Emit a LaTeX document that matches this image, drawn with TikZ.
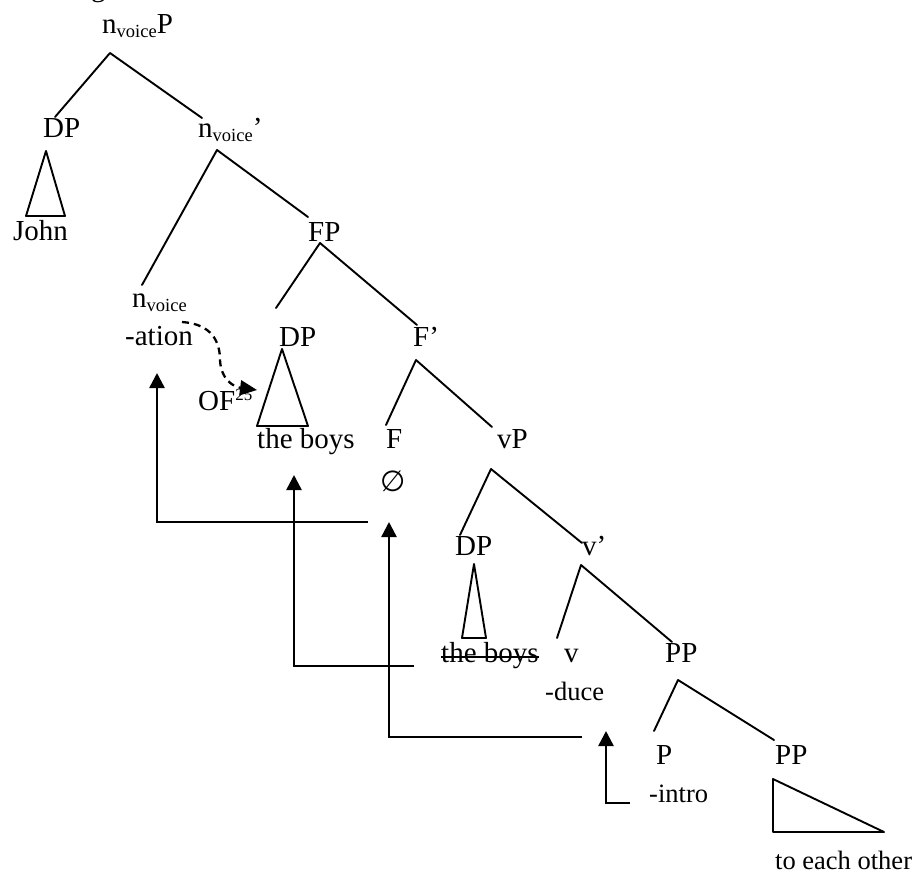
\documentclass[tikz,border=0pt]{standalone}
\usepackage{fontspec}
\setmainfont{Liberation Serif}
\newfontfamily\djvfont{DejaVu Sans}
\usetikzlibrary{arrows.meta,calc}
\newcommand\mainsz{\fontsize{29}{34}\selectfont}
\newcommand\smallsz{\fontsize{26.5}{31}\selectfont}
\newcommand\mysub[1]{\raisebox{-4pt}{\fontsize{18.5}{20}\selectfont #1}}
\newcommand\mysup[1]{\raisebox{10pt}{\fontsize{17}{19}\selectfont #1}}
\begin{document}
\begin{tikzpicture}[x=1pt,y=-1pt,
  lbl/.style={anchor=base west,inner sep=0pt,font=\mainsz},
  sml/.style={anchor=base west,inner sep=0pt,font=\smallsz},
  edge/.style={line width=1.9pt,line cap=round,line join=round},
  mv/.style={line width=2.5pt,-{Triangle[width=15pt,length=15pt]}},
  dmv/.style={line width=2.3pt,dash pattern=on 7pt off 5pt,-{Triangle[width=15pt,length=17pt]}}]
\useasboundingbox (0,0) rectangle (913,875);
% fragment of text cut at the top
\node[lbl] (gfrag) at (91,-3) {g};
% labels
\node[lbl] (nvP) at (102,34) {n\mysub{voice}P};
\node[lbl] (dp1) at (43,137) {DP};
\node[lbl] (nvbar) at (198,137) {n\mysub{voice}’};
\node[lbl] (john) at (13,240) {John};
\node[lbl] (fp) at (308,241) {FP};
\node[lbl] (nv) at (132,307) {n\mysub{voice}};
\node[lbl] (ation) at (125,345) {-ation};
\node[lbl] (dp2) at (279,346) {DP};
\node[lbl] (fbar) at (413,346) {F’};
\node[lbl] (of) at (198,410) {OF\mysup{25}};
\node[lbl] (tb1) at (257,448) {the boys};
\node[lbl] (f) at (386,448) {F};
\node[anchor=base west,inner sep=0pt,font={\djvfont\fontsize{29}{34}\selectfont}] (empty) at (380,491) {∅};
\node[lbl] (vp) at (497,448) {vP};
\node[lbl] (dp3) at (455,555) {DP};
\node[lbl] (vbar) at (582,555) {v’};
\node[lbl] (tb2) at (441,662) {the boys};
\node[lbl] (v) at (564,662) {v};
\node[lbl] (pp1) at (665,662) {PP};
\node[sml] (duce) at (545,700) {-duce};
\node[lbl] (p) at (656,764) {P};
\node[lbl] (pp2) at (775,764) {PP};
\node[sml] (intro) at (649,802) {-intro};
\node[sml] (eo) at (775,869) {to each other};
% strike-through
\draw[line width=1.8pt] ($(tb2.base west)+(0,-5)$) -- ($(tb2.base east)+(0,-5)$);
% tree edge end points
\coordinate (a1) at (110,53);  \coordinate (a1l) at (55,117);  \coordinate (a1r) at (202,118);
\coordinate (a2) at (217,150); \coordinate (a2l) at (142,285); \coordinate (a2r) at (308,217);
\coordinate (a3) at (320,243); \coordinate (a3l) at (276,308); \coordinate (a3r) at (417,325);
\coordinate (a4) at (416,360); \coordinate (a4l) at (386,425); \coordinate (a4r) at (492,427);
\coordinate (a5) at (491,469); \coordinate (a5l) at (460,535); \coordinate (a5r) at (582,543);
\coordinate (a6) at (581,565); \coordinate (a6l) at (557,638); \coordinate (a6r) at (672,642);
\coordinate (a7) at (678,680); \coordinate (a7l) at (654,731); \coordinate (a7r) at (774,740);
\draw[edge] (a1l) -- (a1) -- (a1r);
\draw[edge] (a2l) -- (a2) -- (a2r);
\draw[edge] (a3l) -- (a3) -- (a3r);
\draw[edge] (a4l) -- (a4) -- (a4r);
\draw[edge] (a5l) -- (a5) -- (a5r);
\draw[edge] (a6l) -- (a6) -- (a6r);
\draw[edge] (a7l) -- (a7) -- (a7r);
% triangles
\draw[edge] (46,151) -- (26,216) -- (65,216) -- cycle;
\draw[edge] (282,349) -- (257,426) -- (308,426) -- cycle;
\draw[edge] (474,564) -- (462,638) -- (486,638) -- cycle;
\draw[edge] (773,779) -- (773,832) -- (884,832) -- cycle;
% movement arrows
\coordinate (m1s) at (368,522); \coordinate (m1c) at (157,522); \coordinate (m1e) at (157,373);
\coordinate (m2s) at (414,666); \coordinate (m2c) at (294,666); \coordinate (m2e) at (294,475);
\coordinate (m3s) at (582,737); \coordinate (m3c) at (389,737); \coordinate (m3e) at (389,522);
\coordinate (m4s) at (630,803); \coordinate (m4c) at (606,803); \coordinate (m4e) at (606,731);
\draw[mv] (m1s) -- (m1c) -- (m1e);
\draw[mv] (m2s) -- (m2c) -- (m2e);
\draw[mv] (m3s) -- (m3c) -- (m3e);
\draw[mv] (m4s) -- (m4c) -- (m4e);
% dashed case arrow
\coordinate (ds) at (182,322); \coordinate (dm) at (220,360); \coordinate (de) at (257,390);
\draw[dmv] (ds) .. controls (212,324) and (220,342) .. (dm) .. controls (221,380) and (234,387) .. (de);
\end{tikzpicture}
\end{document}
